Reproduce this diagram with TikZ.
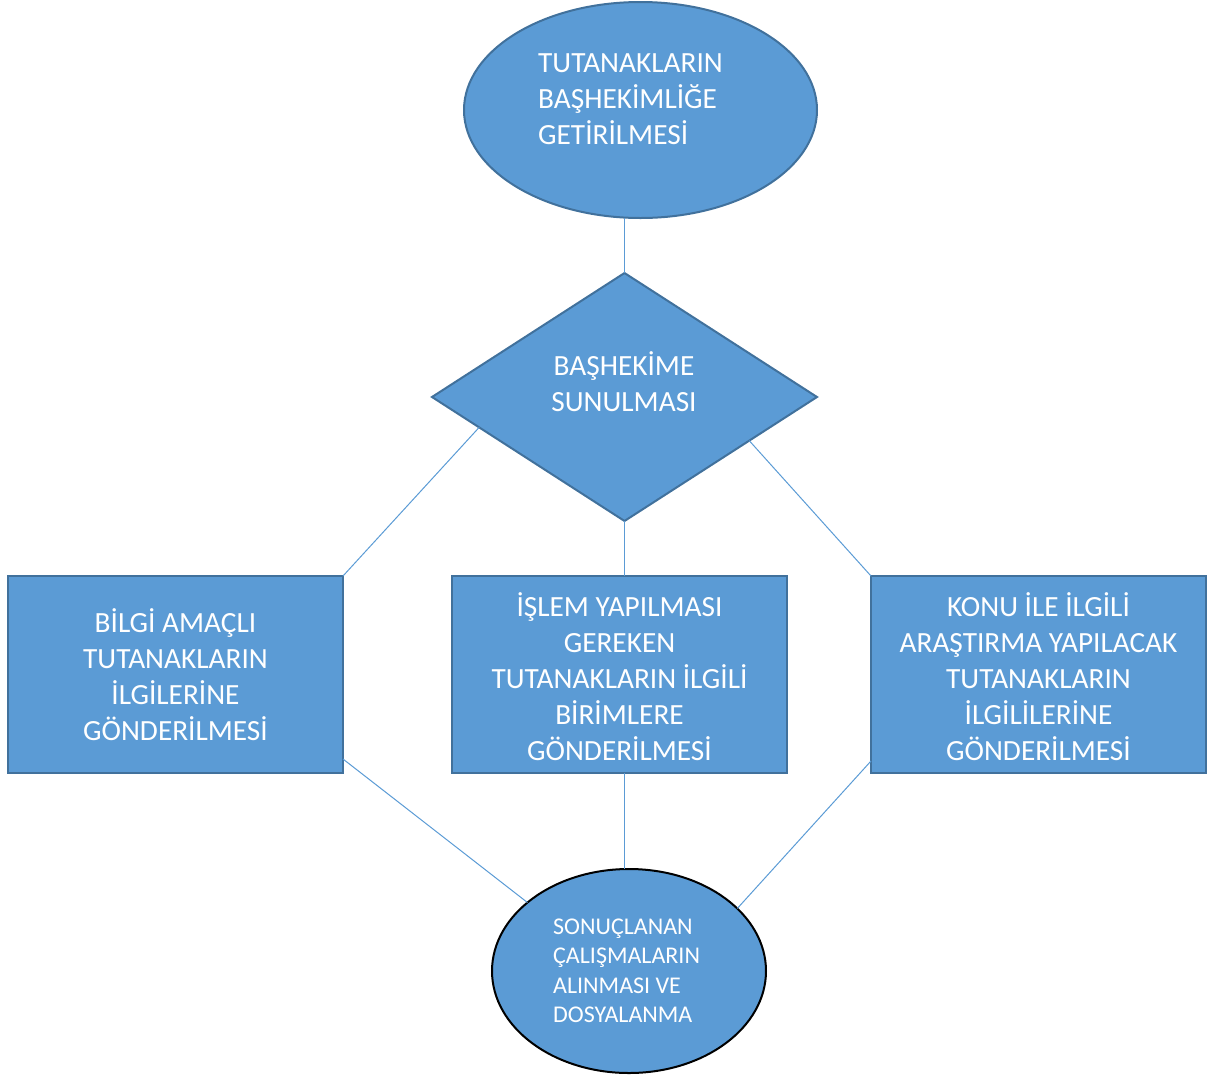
\documentclass[tikz,border=0pt]{standalone}
\usepackage{fontspec}
\setmainfont{Carlito}
\usetikzlibrary{shapes.geometric,calc}
\definecolor{flowfill}{HTML}{5B9BD5}
\definecolor{flowedge}{HTML}{41719C}
\begin{document}
\begin{tikzpicture}[x=1pt,y=-1pt,
  flowshape/.style={fill=flowfill, draw=flowedge, line width=2pt, inner sep=0pt, outer sep=0pt},
  flowbox/.style={flowshape, rectangle, line width=2.5pt, minimum width=335pt, minimum height=197pt,
    text=white, align=center, font=\fontsize{29.3}{36}\selectfont},
  bigtext/.style={text=white, inner sep=0pt, font=\fontsize{29.3}{36}\selectfont},
  smalltext/.style={text=white, inner sep=0pt, font=\fontsize{24}{29.5}\selectfont},
  conn/.style={draw=flowfill, line width=1pt}]
\useasboundingbox (0,0) rectangle (1219,1077);

% start: ellipse at the top
\node[flowshape, ellipse, minimum width=353pt, minimum height=216pt] (start) at (640.5,110) {};
\node[bigtext, anchor=west, align=left] (startText) at (538,98.75)
  {TUTANAKLARIN\\BAŞHEKİMLİĞE\\GETİRİLMESİ};

% decision
\node[flowshape, diamond, minimum width=385pt, minimum height=248pt] (dec) at (624.5,397) {};
\node[bigtext, align=center] (decText) at (624,382) {BAŞHEKİME\\SUNULMASI};

% three branches
\node[flowbox] (left) at (175.5,674.5) {BİLGİ AMAÇLI\\TUTANAKLARIN\\İLGİLERİNE\\GÖNDERİLMESİ};
\node[flowbox] (mid) at (619.5,674.5) {};
\node[bigtext, align=center] (midText) at (619.5,676.5) {İŞLEM YAPILMASI\\GEREKEN\\TUTANAKLARIN İLGİLİ\\BİRİMLERE\\GÖNDERİLMESİ};
\node[flowbox] (right) at (1038.5,674.5) {};
\node[bigtext, align=center] (rightText) at (1038.5,676.5) {KONU İLE İLGİLİ\\ARAŞTIRMA YAPILACAK\\TUTANAKLARIN\\İLGİLİLERİNE\\GÖNDERİLMESİ};

% end: ellipse at the bottom
\node[flowshape, ellipse, draw=black, minimum width=274pt, minimum height=204pt] (finish) at (629,971) {};
\node[smalltext, anchor=west, align=left] (finishText) at (553,971)
  {SONUÇLANAN\\ÇALIŞMALARIN\\ALINMASI VE\\DOSYALANMA};

% connectors
\draw[conn] (start.south -| dec.north) -- (dec.north);
\draw[conn] ($(dec.west)!0.245!(dec.south)$) -- (left.north east);
\draw[conn] (dec.south) -- (dec.south |- mid.north);
\draw[conn] ($(dec.east)!0.352!(dec.south)$) -- (right.north west);
\draw[conn] ($(left.south east)+(0,-14)$) -- (finish.146.4);
\draw[conn] (mid.south -| dec.south) -- (finish.north -| dec.south);
\draw[conn] ($(right.south west)+(0,-12)$) -- (finish.30.6);
\end{tikzpicture}
\end{document}
